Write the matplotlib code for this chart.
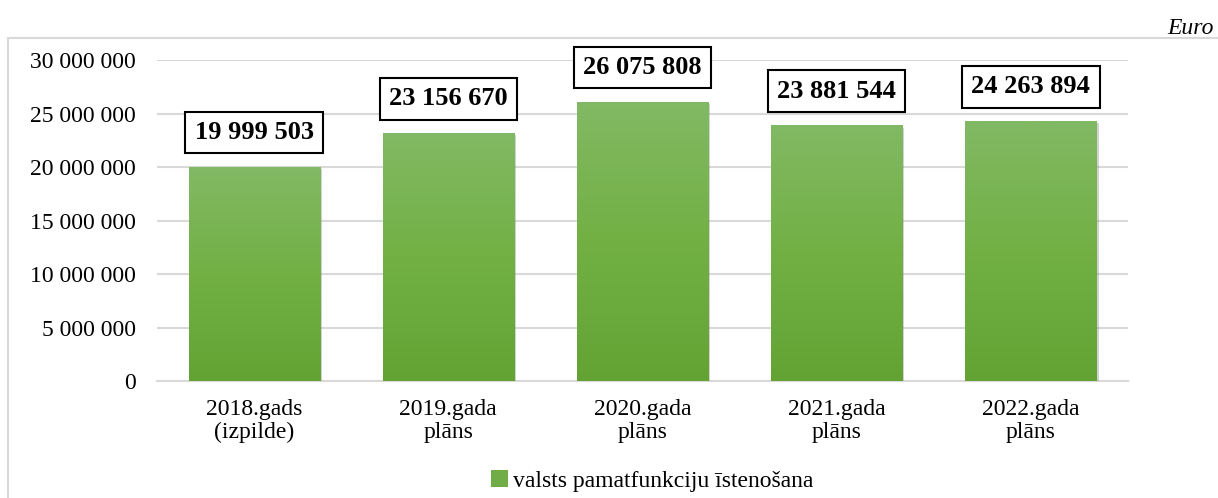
import matplotlib
matplotlib.use("Agg")
import matplotlib.pyplot as plt
import numpy as np
from matplotlib.ticker import FuncFormatter, MultipleLocator
from matplotlib.lines import Line2D
from matplotlib.patches import Patch
from matplotlib.colors import LinearSegmentedColormap
import matplotlib.patheffects as pe

categories = ["2018.gads\n(izpilde)", "2019.gada\nplāns", "2020.gada\nplāns", "2021.gada\nplāns", "2022.gada\nplāns"]
values = [19999503, 23156670, 26075808, 23881544, 24263894]
series_name = "valsts pamatfunkciju īstenošana"
unit_label = "Euro"

plt.rcParams['font.family'] = ['Liberation Serif', 'DejaVu Serif']

W, H = 1218, 498
fig = plt.figure(figsize=(W / 100, H / 100), dpi=100)
ax = fig.add_axes([157 / W, 1 - 381 / H, (1128 - 157) / W, (381 - 60) / H])

def fmt(v):
    return f"{int(round(v)):,}".replace(",", " ")

x = np.arange(len(categories))
bars = ax.bar(x, values, width=0.675, color="#70ad47", zorder=3,
              path_effects=[pe.SimplePatchShadow(offset=(1.5, -1.5), shadow_rgbFace="#808080", alpha=0.35), pe.Normal()])

grad = np.linspace(0, 1, 256).reshape(-1, 1)
cmap = LinearSegmentedColormap.from_list("g", ["#63a334", "#72b044", "#82b964"])
for b in bars:
    x0, y0 = b.get_x(), b.get_y()
    w, h = b.get_width(), b.get_height()
    im = ax.imshow(grad, cmap=cmap, aspect="auto", extent=(x0, x0 + w, y0, y0 + h),
                   origin="lower", zorder=4)
    im.set_clip_path(b)

for xi, v in zip(x, values):
    ax.annotate(fmt(v), (xi, v), xytext=(0, 16.5), textcoords="offset points",
                ha="center", va="bottom", fontsize=19, fontweight="bold", zorder=6,
                bbox=dict(boxstyle="square,pad=0.35", facecolor="white", edgecolor="black", linewidth=1.5))

ax.set_xlim(-0.5, len(categories) - 0.5)
ax.set_ylim(0, 30000000)
ax.yaxis.set_major_locator(MultipleLocator(5000000))
ax.yaxis.set_major_formatter(FuncFormatter(lambda v, p: fmt(v)))
ax.set_xticks(x)
ax.set_xticklabels(categories, linespacing=1.1)
ax.tick_params(axis="both", length=0, labelsize=17)
ax.tick_params(axis="y", pad=15)
ax.tick_params(axis="x", pad=13)
ax.grid(axis="y", color="#d9d9d9", linewidth=1.5, zorder=0)
for s in ["top", "right", "left"]:
    ax.spines[s].set_visible(False)
ax.spines["bottom"].set_color("#d9d9d9")
ax.spines["bottom"].set_linewidth(1.5)
ax.set_axisbelow(True)

handles = [Patch(facecolor="#70ad47", edgecolor="none", label=series_name)]
fig.legend(handles=handles, loc="center", bbox_to_anchor=(652 / W, 1 - 481 / H), frameon=False,
           fontsize=17, handlelength=0.75, handleheight=0.75, handletextpad=0.2)

fx = 8 / W
fy = 1 - 38 / H
fig.add_artist(Line2D([fx, fx], [0, fy], color="#d9d9d9", linewidth=1.5, transform=fig.transFigure))
fig.add_artist(Line2D([fx, 1], [fy, fy], color="#d9d9d9", linewidth=1.5, transform=fig.transFigure))

fig.text(1214 / W, 1 - 28 / H, unit_label, ha="right", va="center", fontsize=17, style="italic")

fig.savefig("out.png", dpi=100)
